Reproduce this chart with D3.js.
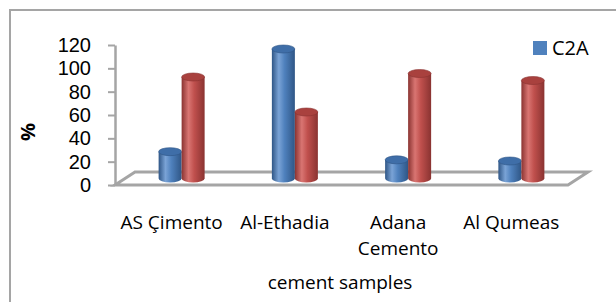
<!DOCTYPE html>
<html>
<head>
<meta charset="utf-8">
<script src="https://cdnjs.cloudflare.com/ajax/libs/d3/7.8.5/d3.min.js"></script>
<style>
  body { margin: 0; background: #fff; }
  svg { display: block; font-family: "Open Sans", sans-serif; }
</style>
</head>
<body>
<svg id="chart" width="616" height="302"></svg>
<script>
// data
var categories = ["AS Çimento", "Al-Ethadia", "Adana Cemento", "Al Qumeas"];
var seriesNames = ["C2A", "other"];
var c2aValues = [23, 111, 16, 15];
var otherValues = [87, 57, 90, 84];
var yTicks = [0, 20, 40, 60, 80, 100, 120];

var colors = {
    C2A: { base: "#4f81bd", dark: "#2f5686", light: "#7aa3d6", top: "#3f6ea8" },
    other: { base: "#c0504d", dark: "#8a3331", light: "#d97572", top: "#a9413e" }
};

var svg = d3.select("#chart");

// outer frame (only left and top edges show in the crop)
svg.append("rect")
    .attr("x", 10).attr("y", 10)
    .attr("width", 640).attr("height", 320)
    .attr("fill", "none")
    .attr("stroke", "#a5a5a5")
    .attr("stroke-width", 2);

var plot = { left: 115, right: 568, top: 45, bottom: 185 };
var depth = { dx: 20, dy: -13 };

var x = d3.scaleBand()
    .domain(categories)
    .range([plot.left, plot.right]);

var y = d3.scaleLinear()
    .domain([0, 120])
    .range([plot.bottom, plot.top]);

var defs = svg.append("defs");
seriesNames.forEach(function(s) {
    var c = colors[s];
    var g = defs.append("linearGradient").attr("id", "grad-" + s)
        .attr("x1", "0%").attr("x2", "100%").attr("y1", "0%").attr("y2", "0%");
    g.append("stop").attr("offset", "0%").attr("stop-color", c.dark);
    g.append("stop").attr("offset", "30%").attr("stop-color", c.light);
    g.append("stop").attr("offset", "55%").attr("stop-color", c.base);
    g.append("stop").attr("offset", "100%").attr("stop-color", c.dark);
});

// floor
var floorPts = [
    [plot.left, y(0)],
    [plot.right, y(0)],
    [plot.right + depth.dx, y(0) + depth.dy],
    [plot.left + depth.dx, y(0) + depth.dy]
];
svg.append("polygon")
    .attr("points", floorPts.map(function(p) { return p.join(","); }).join(" "))
    .attr("fill", "#fff")
    .attr("stroke", "#a5a5a5")
    .attr("stroke-width", 3)
    .attr("stroke-linejoin", "miter");

// y axis
var yAxis = svg.append("g")
    .attr("transform", "translate(" + plot.left + ",0)")
    .call(d3.axisLeft(y).tickValues(yTicks).tickSize(7).tickPadding(17).tickSizeOuter(0));
yAxis.select(".domain").attr("stroke", "#a5a5a5").attr("stroke-width", 2.5);
yAxis.selectAll(".tick line").attr("stroke", "#a5a5a5").attr("stroke-width", 2);
yAxis.selectAll(".tick text")
    .attr("fill", "#000")
    .style("font-size", "20px")
    .attr("font-family", "Liberation Sans");

// cylinders
var barW = 23, ry = 4;
var series = [
    { name: "C2A", values: c2aValues },
    { name: "other", values: otherValues }
];

series.forEach(function(s, si) {
    var c = colors[s.name];
    var g = svg.append("g").attr("class", "series-" + si);
    categories.forEach(function(cat, i) {
        var cx = x(cat) + x.bandwidth() / 2 + depth.dx / 2 + (si === 0 ? -barW / 2 : barW / 2);
        var x0 = cx - barW / 2;
        var yb = y(0) + depth.dy / 2;
        var yt = y(s.values[i]) + depth.dy / 2;
        // body with rounded bottom
        g.append("path")
            .attr("d", "M" + x0 + "," + yt +
                " L" + x0 + "," + yb +
                " A" + (barW / 2) + "," + ry + " 0 0 0 " + (x0 + barW) + "," + yb +
                " L" + (x0 + barW) + "," + yt + " Z")
            .attr("fill", "url(#grad-" + s.name + ")");
        // top cap
        g.append("ellipse")
            .attr("cx", cx).attr("cy", yt)
            .attr("rx", barW / 2).attr("ry", ry)
            .attr("fill", c.top)
            .attr("stroke", c.dark)
            .attr("stroke-width", 0.6);
    });
});

// category labels
svg.append("g").selectAll("text")
    .data(categories)
    .join("text")
    .attr("text-anchor", "middle")
    .attr("x", function(d) { return x(d) + x.bandwidth() / 2; })
    .attr("y", 229)
    .style("font-size", "19px")
    .attr("fill", "#000")
    .each(function(d) {
        var el = d3.select(this);
        var words = d.split(" ");
        if (d === "Adana Cemento") {
            words.forEach(function(w, k) {
                el.append("tspan")
                    .attr("x", x(d) + x.bandwidth() / 2)
                    .attr("dy", k === 0 ? 0 : 26)
                    .text(w);
            });
        } else {
            el.text(d);
        }
    });

// axis titles
svg.append("text")
    .attr("x", 340).attr("y", 289)
    .attr("text-anchor", "middle")
    .style("font-size", "19px")
    .text("cement samples");

svg.append("text")
    .attr("transform", "translate(35,132) rotate(-90)")
    .attr("text-anchor", "middle")
    .style("font-size", "20px")
    .style("font-weight", "bold")
    .text("%");

// legend
svg.append("rect")
    .attr("x", 533).attr("y", 41)
    .attr("width", 14).attr("height", 14)
    .attr("fill", colors.C2A.base);
svg.append("text")
    .attr("x", 552).attr("y", 55)
    .style("font-size", "20px")
    .text(seriesNames[0]);
</script>
</body>
</html>
